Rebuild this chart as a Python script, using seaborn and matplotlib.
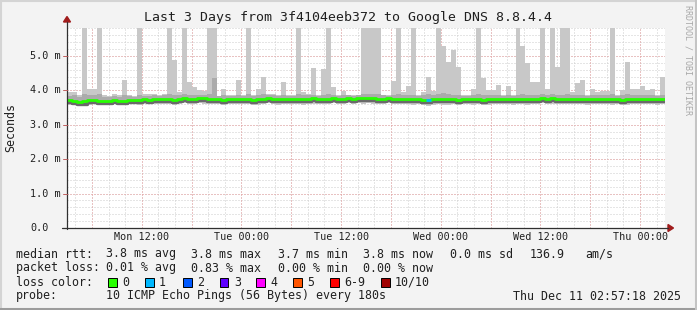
import numpy as np
import matplotlib
matplotlib.use("Agg")
import matplotlib.pyplot as plt
import matplotlib.transforms as mtransforms
import seaborn as sns
from matplotlib.patches import Rectangle, Polygon
from matplotlib.lines import Line2D

# ---------------- data (milliseconds), one value per 36-minute column ----------------
max_ms = [3.95, 3.94, 3.85, 6.5, 4.04, 4.04, 6.5, 3.86, 3.84, 3.90,
          3.85, 4.30, 3.86, 3.84, 6.5, 3.88, 3.88, 3.90, 3.87, 3.89,
          6.5, 4.88, 3.95, 6.5, 4.24, 4.09, 4.00, 3.98, 6.5, 6.5,
          3.84, 4.05, 3.86, 3.85, 4.30, 3.85, 6.5, 3.86, 4.05, 4.38,
          3.90, 3.88, 3.87, 4.24, 3.85, 3.86, 6.5, 3.95, 3.88, 4.64,
          3.85, 4.62, 6.5, 4.09, 3.85, 3.98, 3.86, 3.85, 3.87, 6.5,
          6.5, 6.5, 6.5, 3.86, 3.85, 4.28, 6.5, 3.96, 4.13, 6.5,
          3.85, 3.96, 4.38, 3.98, 6.5, 5.29, 4.81, 5.17, 4.69, 3.85,
          3.86, 4.05, 6.5, 4.35, 4.00, 4.00, 4.16, 3.85, 4.13, 3.85,
          6.5, 5.29, 4.79, 4.25, 4.25, 6.5, 4.03, 6.5, 4.69, 6.5,
          6.5, 3.96, 4.22, 4.30, 3.85, 4.05, 3.96, 3.98, 3.98, 6.5,
          3.85, 4.00, 4.83, 4.03, 4.05, 4.13, 4.00, 4.03, 3.85, 4.38]

hi_ms = [3.84, 3.85, 3.82, 3.90, 3.86, 3.85, 3.88, 3.82, 3.81, 3.83,
         3.82, 3.86, 3.83, 3.82, 3.86, 3.84, 3.84, 3.85, 3.84, 3.85,
         3.88, 3.86, 3.86, 3.88, 3.86, 3.87, 3.85, 3.86, 3.90, 4.35,
         3.83, 3.86, 3.84, 3.83, 3.86, 3.83, 3.88, 3.83, 3.86, 3.88,
         3.86, 3.85, 3.84, 3.86, 3.84, 3.84, 3.88, 3.86, 3.85, 3.87,
         3.84, 3.87, 3.88, 3.86, 3.84, 3.86, 3.85, 3.84, 3.86, 3.88,
         3.89, 3.88, 3.88, 3.85, 3.84, 3.86, 3.88, 3.86, 3.86, 3.87,
         3.84, 3.86, 3.90, 3.86, 3.88, 3.92, 3.88, 3.87, 3.86, 3.84,
         3.84, 3.86, 3.88, 3.86, 3.85, 3.86, 3.86, 3.84, 3.86, 3.84,
         3.87, 3.88, 3.86, 3.86, 3.85, 3.88, 3.86, 3.90, 3.86, 3.87,
         3.88, 3.86, 3.86, 3.87, 3.84, 3.86, 3.85, 3.86, 3.85, 3.88,
         3.84, 3.85, 3.88, 3.86, 3.86, 3.86, 3.85, 3.85, 3.84, 3.86]

med_ms = [3.71, 3.70, 3.67, 3.68, 3.71, 3.71, 3.70, 3.70, 3.70, 3.71,
          3.69, 3.70, 3.71, 3.72, 3.72, 3.74, 3.73, 3.75, 3.75, 3.75,
          3.75, 3.73, 3.76, 3.77, 3.76, 3.75, 3.77, 3.77, 3.75, 3.76,
          3.75, 3.73, 3.76, 3.76, 3.75, 3.76, 3.76, 3.73, 3.74, 3.76,
          3.77, 3.76, 3.74, 3.75, 3.76, 3.76, 3.75, 3.74, 3.76, 3.77,
          3.76, 3.75, 3.76, 3.77, 3.76, 3.76, 3.77, 3.76, 3.77, 3.77,
          3.78, 3.77, 3.76, 3.76, 3.77, 3.75, 3.76, 3.76, 3.75, 3.74,
          3.74, 3.73, 3.73, 3.74, 3.75, 3.74, 3.74, 3.75, 3.73, 3.75,
          3.75, 3.74, 3.75, 3.73, 3.74, 3.75, 3.75, 3.76, 3.75, 3.74,
          3.75, 3.76, 3.74, 3.75, 3.76, 3.78, 3.75, 3.77, 3.75, 3.75,
          3.76, 3.75, 3.75, 3.76, 3.74, 3.75, 3.76, 3.76, 3.75, 3.74,
          3.75, 3.73, 3.74, 3.75, 3.76, 3.75, 3.75, 3.75, 3.74, 3.75]

lo_ms = [3.63, 3.62, 3.60, 3.61, 3.63, 3.64, 3.63, 3.62, 3.63, 3.64,
         3.62, 3.64, 3.64, 3.65, 3.65, 3.66, 3.65, 3.66, 3.67, 3.66,
         3.67, 3.65, 3.67, 3.68, 3.67, 3.66, 3.68, 3.67, 3.66, 3.67,
         3.66, 3.65, 3.66, 3.67, 3.66, 3.67, 3.66, 3.64, 3.65, 3.67,
         3.68, 3.66, 3.65, 3.66, 3.67, 3.66, 3.66, 3.65, 3.67, 3.67,
         3.67, 3.66, 3.67, 3.68, 3.67, 3.66, 3.68, 3.67, 3.68, 3.67,
         3.68, 3.68, 3.67, 3.67, 3.68, 3.66, 3.67, 3.67, 3.66, 3.65,
         3.66, 3.64, 3.62, 3.65, 3.66, 3.65, 3.65, 3.66, 3.64, 3.66,
         3.66, 3.65, 3.66, 3.64, 3.65, 3.66, 3.66, 3.67, 3.66, 3.65,
         3.66, 3.67, 3.65, 3.66, 3.67, 3.68, 3.66, 3.67, 3.66, 3.66,
         3.67, 3.66, 3.66, 3.67, 3.65, 3.66, 3.67, 3.67, 3.66, 3.65,
         3.66, 3.64, 3.65, 3.66, 3.67, 3.66, 3.66, 3.66, 3.65, 3.66]

min_ms = [3.58, 3.56, 3.54, 3.56, 3.58, 3.59, 3.58, 3.56, 3.58, 3.59,
          3.56, 3.58, 3.59, 3.60, 3.58, 3.60, 3.59, 3.61, 3.60, 3.60,
          3.61, 3.58, 3.61, 3.62, 3.60, 3.59, 3.62, 3.61, 3.59, 3.60,
          3.60, 3.58, 3.60, 3.61, 3.60, 3.61, 3.59, 3.56, 3.58, 3.61,
          3.62, 3.60, 3.58, 3.59, 3.61, 3.60, 3.60, 3.58, 3.61, 3.61,
          3.60, 3.59, 3.61, 3.62, 3.60, 3.59, 3.62, 3.60, 3.62, 3.61,
          3.62, 3.61, 3.60, 3.61, 3.62, 3.59, 3.61, 3.60, 3.59, 3.58,
          3.59, 3.57, 3.55, 3.58, 3.60, 3.58, 3.58, 3.60, 3.57, 3.60,
          3.59, 3.58, 3.60, 3.57, 3.58, 3.60, 3.59, 3.61, 3.60, 3.58,
          3.60, 3.61, 3.58, 3.60, 3.61, 3.62, 3.59, 3.61, 3.60, 3.59,
          3.61, 3.60, 3.59, 3.61, 3.58, 3.60, 3.61, 3.60, 3.59, 3.58,
          3.60, 3.57, 3.58, 3.60, 3.61, 3.59, 3.60, 3.60, 3.58, 3.59]

loss = [0] * 120
loss[72] = 1

time_labels = ["Mon 12:00", "Tue 00:00", "Tue 12:00", "Wed 00:00", "Wed 12:00", "Thu 00:00"]
time_label_hours = [9, 21, 33, 45, 57, 69]
y_ticks = [0, 1, 2, 3, 4, 5]
y_tick_labels = ["0.0", "1.0 m", "2.0 m", "3.0 m", "4.0 m", "5.0 m"]
loss_labels = ["0", "1", "2", "3", "4", "5", "6-9", "10/10"]
loss_colors = ["#26ff00", "#00b8ff", "#0059ff", "#5e00ff", "#ff00ff", "#ff5500", "#ff0000", "#a00000"]

title = "Last 3 Days from 3f4104eeb372 to Google DNS 8.8.4.4"
row1 = ["median rtt:", "3.8 ms avg", "3.8 ms max", "3.7 ms min", "3.8 ms now", "0.0 ms sd", "136.9", "am/s"]
row2 = ["packet loss:", "0.01 % avg", "0.83 % max", "0.00 % min", "0.00 % now"]
row3 = "loss color:"
row4 = ["probe:", "10 ICMP Echo Pings (56 Bytes) every 180s"]
stamp = "Thu Dec 11 02:57:18 2025"

# ---------------- figure ----------------
sns.set_style("white")
plt.rcParams['font.family'] = ['DejaVu Sans Mono', 'DejaVu Sans']
plt.rcParams['lines.scale_dashes'] = False

W, H = 697, 310
fig = plt.figure(figsize=(W / 100, H / 100), dpi=100, facecolor='#f3f3f3')
AX_L, AX_R, AX_T, AX_B = 67, 665, 28, 228
ax = fig.add_axes([AX_L / W, (H - AX_B) / H, (AX_R - AX_L) / W, (AX_B - AX_T) / H])
ax.set_facecolor('white')
YMAX = 5.81
ax.set_xlim(0, 72)
ax.set_ylim(0, YMAX)
for s in ax.spines.values():
    s.set_visible(False)
ax.set_xticks([])
ax.set_yticks([])

# grid: 1px dots with 1px gaps (dash lengths in points: 1px = 0.72pt)
dot = (0, (0.72, 1.44))
for h in np.arange(1, 72, 2):
    ax.axvline(h, color='#cdcdcd', lw=0.72, ls=dot, zorder=0)
for v in np.arange(0.2, YMAX, 0.2):
    ax.axhline(v, color='#cdcdcd', lw=0.72, ls=dot, zorder=0)
for h in np.arange(3, 72, 6):
    ax.axvline(h, color='#eba0a0', lw=0.72, ls=dot, zorder=0.5)
for v in y_ticks[1:]:
    ax.axhline(v, color='#eba0a0', lw=0.72, ls=dot, zorder=0.5)

x0 = np.arange(len(max_ms)) * 0.6
mx, hi, md, lo, mn = map(np.array, (max_ms, hi_ms, med_ms, lo_ms, min_ms))
ax.bar(x0, mx - mn, bottom=mn, width=0.6, align='edge', color='#c8c8c8', linewidth=0, zorder=2)
ax.bar(x0, hi - lo, bottom=lo, width=0.6, align='edge', color='#ababab', linewidth=0, zorder=3)

xs = np.append(x0, 72.0)
ys = np.append(md, md[-1])
shift_down = mtransforms.offset_copy(ax.transData, fig=fig, x=0, y=-2.2, units='dots')
sns.lineplot(x=xs, y=ys, ax=ax, drawstyle='steps-post', color='#6a6a6a', lw=2.4, zorder=4,
             estimator=None, transform=shift_down)
sns.lineplot(x=xs, y=ys, ax=ax, drawstyle='steps-post', color=loss_colors[0], lw=2.0, zorder=5,
             estimator=None)
for i, l in enumerate(loss):
    if l > 0:
        ax.hlines(md[i], x0[i], x0[i] + 0.6, color=loss_colors[min(l, 7)], lw=2.0, zorder=6)

# axes lines and arrows
def px(x, y):
    return (x / W, 1 - y / H)

axis_col = '#303030'
fig.add_artist(Line2D([px(AX_L, 0)[0]] * 2, [px(0, AX_B + 1)[1], px(0, 22)[1]], color=axis_col, lw=0.9))
fig.add_artist(Line2D([px(62, 0)[0], px(668, 0)[0]], [px(0, AX_B)[1]] * 2, color=axis_col, lw=0.9))
arrow_col = '#a01c1c'
fig.add_artist(Polygon([px(63.5, 22), px(70.5, 22), px(67, 16.5)], closed=True, color=arrow_col,
                       transform=fig.transFigure))
fig.add_artist(Polygon([px(668, 224.5), px(668, 231.5), px(673.5, 228)], closed=True, color=arrow_col,
                       transform=fig.transFigure))

# tick labels
TICK_FS = 7.3
for v, lab in zip(y_ticks, y_tick_labels):
    ypx = AX_B - v / YMAX * (AX_B - AX_T)
    fig.text(*px(30, ypx), lab, ha='left', va='center', fontsize=TICK_FS, color='#202020')
    fig.add_artist(Line2D([px(63, 0)[0], px(67, 0)[0]], [px(0, ypx)[1]] * 2,
                          color='#c06060' if v else axis_col, lw=0.7))
for hr, lab in zip(time_label_hours, time_labels):
    xpx = AX_L + hr / 72 * (AX_R - AX_L)
    fig.text(*px(xpx, 237.5), lab, ha='center', va='center', fontsize=TICK_FS, color='#202020')

fig.text(*px(11, 128), "Seconds", rotation=90, ha='center', va='center', fontsize=8.4, color='#202020')
fig.text(*px(347.5, 18), title, ha='center', va='center', fontsize=9.5, color='#202020')
fig.text(*px(688, 60), "RRDTOOL / TOBI OETIKER", rotation=-90, ha='center', va='center',
         fontsize=6, color='#a8a8a8')

LEG_FS = 8.4
rows = [254, 268, 282, 296]
row1_x = [16, 106, 191, 278, 363, 450, 530, 585]
row2_x = [16, 106, 191, 278, 363]
for t, x in zip(row1, row1_x):
    fig.text(*px(x, rows[0]), t, ha='left', va='center', fontsize=LEG_FS, color='#202020')
for t, x in zip(row2, row2_x):
    fig.text(*px(x, rows[1]), t, ha='left', va='center', fontsize=LEG_FS, color='#202020')
fig.text(*px(16, rows[2]), row3, ha='left', va='center', fontsize=LEG_FS, color='#202020')
fig.text(*px(16, rows[3]), row4[0], ha='left', va='center', fontsize=LEG_FS, color='#202020')
fig.text(*px(106, rows[3]), row4[1], ha='left', va='center', fontsize=LEG_FS, color='#202020')
fig.text(*px(681, rows[3]), stamp, ha='right', va='center', fontsize=LEG_FS, color='#202020')

box_x = [108, 145, 183, 220, 256, 293, 330, 381]
for bx, c, lab in zip(box_x, loss_colors, loss_labels):
    r = Rectangle(px(bx, rows[2] + 4.5), 8.5 / W, 9 / H, transform=fig.transFigure,
                  facecolor=c, edgecolor='black', lw=0.7)
    fig.add_artist(r)
    fig.text(*px(bx + 14, rows[2]), lab, ha='left', va='center', fontsize=LEG_FS, color='#202020')

# frame
fig.add_artist(Line2D([0, 1], [1 - 1 / H] * 2, color='#d4d4d4', lw=1.5))
fig.add_artist(Line2D([1 / W] * 2, [0, 1], color='#d4d4d4', lw=1.5))
fig.add_artist(Line2D([0, 1], [1.5 / H] * 2, color='#9c9c9c', lw=2.2))
fig.add_artist(Line2D([1 - 1.5 / W] * 2, [0, 1], color='#c4c4c4', lw=2.2))

fig.savefig("out.png", dpi=100, facecolor=fig.get_facecolor())
